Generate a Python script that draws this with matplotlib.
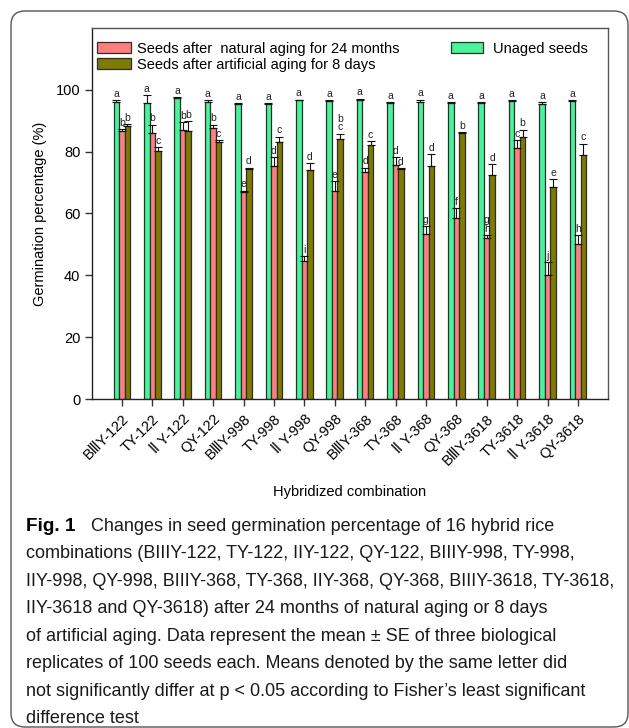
import matplotlib
matplotlib.use("Agg")
import matplotlib.pyplot as plt
import numpy as np
from matplotlib.patches import Patch, FancyBboxPatch
from matplotlib.transforms import IdentityTransform

categories = ['BⅢY-122', 'TY-122', 'Ⅱ Y-122', 'QY-122', 'BⅢY-998', 'TY-998', 'Ⅱ Y-998', 'QY-998',
              'BⅢY-368', 'TY-368', 'Ⅱ Y-368', 'QY-368', 'BⅢY-3618', 'TY-3618', 'Ⅱ Y-3618', 'QY-3618']

unaged = [96.1, 95.6, 97.4, 95.9, 95.4, 95.4, 96.5, 96.4, 96.8, 95.7, 95.9, 95.7, 95.7, 96.2, 95.5, 96.3]
unaged_se = [0.4, 2.6, 0.3, 0.6, 0.2, 0.2, 0.3, 0.3, 0.3, 0.2, 0.9, 0.2, 0.2, 0.3, 0.5, 0.3]
natural = [86.6, 85.9, 87.1, 87.5, 67.0, 75.5, 44.7, 67.3, 73.5, 75.7, 53.3, 58.4, 52.0, 81.2, 40.1, 50.1]
natural_se = [0.6, 2.8, 2.3, 1.2, 0.4, 2.8, 1.5, 3.1, 1.3, 2.6, 2.6, 3.4, 1.0, 2.4, 4.3, 2.9]
artificial = [88.2, 80.1, 86.5, 83.0, 74.4, 83.0, 74.0, 83.9, 82.1, 74.4, 75.5, 86.0, 72.3, 84.6, 68.5, 78.8]
artificial_se = [0.6, 1.3, 3.3, 0.6, 0.4, 1.8, 2.3, 1.9, 1.3, 0.2, 3.6, 0.3, 3.6, 2.5, 2.7, 3.8]

unaged_letters = ['a'] * 16
natural_letters = ['b', 'b', 'b', 'b', 'e', 'd', 'i', 'e', 'd', 'd', 'g', 'f', 'g\nh', 'c', 'j', 'h']
artificial_letters = ['b', 'c', 'b', 'c', 'd', 'c', 'd', 'b\nc', 'c', 'd', 'd', 'b', 'd', 'b', 'e', 'c']

label_natural = 'Seeds after  natural aging for 24 months'
label_artificial = 'Seeds after artificial aging for 8 days'
label_unaged = 'Unaged seeds'

caption_lines = [
    'Changes in seed germination percentage of 16 hybrid rice',
    'combinations (BIIIY-122, TY-122, IIY-122, QY-122, BIIIY-998, TY-998,',
    'IIY-998, QY-998, BIIIY-368, TY-368, IIY-368, QY-368, BIIIY-3618, TY-3618,',
    'IIY-3618 and QY-3618) after 24 months of natural aging or 8 days',
    'of artificial aging. Data represent the mean ± SE of three biological',
    'replicates of 100 seeds each. Means denoted by the same letter did',
    'not significantly differ at p < 0.05 according to Fisher’s least significant',
    'difference test',
]

W, H = 629, 728
FONT = ['Liberation Sans', 'DejaVu Sans']
plt.rcParams['font.family'] = FONT

fig = plt.figure(figsize=(W / 100, H / 100), dpi=100)
left, right, top, bottom = 91.5, 608.3, 27.7, 399.3
ax = fig.add_axes([left / W, 1 - bottom / H, (right - left) / W, (bottom - top) / H])

c_green = '#48F39A'
c_red = '#FF7E7E'
c_olive = '#7D7B00'
edge = '#2E2E2E'

x = np.arange(len(categories))
bw = 0.18
offsets = [-bw, 0, bw]
series = [(unaged, unaged_se, unaged_letters, c_green),
          (natural, natural_se, natural_letters, c_red),
          (artificial, artificial_se, artificial_letters, c_olive)]

for off, (vals, se, letters, col) in zip(offsets, series):
    vals = np.array(vals)
    se = np.array(se)
    ax.bar(x + off, vals, width=bw, color=col, edgecolor=edge, linewidth=0.9, zorder=2)
    ax.errorbar(x + off, vals, yerr=[np.zeros_like(se), se], fmt='none', ecolor='#111111',
                elinewidth=0.8, capsize=2.6, capthick=0.8, zorder=3)
    for xi, v, s, lt in zip(x + off, vals, se, letters):
        ax.text(xi, v + s + 0.4, lt, ha='center', va='bottom', fontsize=7.5,
                linespacing=0.85, color='#222222', zorder=4)

ax.set_xlim(-1, 16)
ax.set_ylim(0, 120)
ax.set_yticks([0, 20, 40, 60, 80, 100])
ax.set_xticks(x)
ax.set_xticklabels(categories, rotation=45, ha='right', rotation_mode='anchor')
ax.tick_params(axis='both', direction='out', length=5, width=1, color='#333333', labelsize=10.5, pad=3)
ax.tick_params(axis='x', labelsize=10.5, pad=4)
for s in ['left', 'bottom']:
    ax.spines[s].set_color('#222222')
    ax.spines[s].set_linewidth(1.0)
for s in ['top', 'right']:
    ax.spines[s].set_color('#555555')
    ax.spines[s].set_linewidth(1.0)

leg1 = ax.legend(handles=[Patch(facecolor=c_red, edgecolor=edge, linewidth=0.9, label=label_natural),
                          Patch(facecolor=c_olive, edgecolor=edge, linewidth=0.9, label=label_artificial)],
                 loc='upper left', bbox_to_anchor=(0.0106, 0.962), frameon=False, fontsize=10.5,
                 borderpad=0, borderaxespad=0, handlelength=2.35, handleheight=0.75,
                 handletextpad=0.4, labelspacing=0.12)
ax.add_artist(leg1)
ax.legend(handles=[Patch(facecolor=c_green, edgecolor=edge, linewidth=0.9, label=label_unaged)],
          loc='upper left', bbox_to_anchor=(0.695, 0.962), frameon=False, fontsize=10.5,
          borderpad=0, borderaxespad=0, handlelength=2.25, handleheight=0.75, handletextpad=0.65)

fig.text(40 / W, 1 - 213.5 / H, 'Germination percentage (%)', rotation=90, ha='center', va='center',
         fontsize=10.5)
fig.text(350 / W, 1 - 492 / H, 'Hybridized combination', ha='center', va='center', fontsize=10.5)

# Border
border = FancyBboxPatch((11, H - 727), 617, 716, boxstyle='round,pad=0,rounding_size=14',
                        transform=IdentityTransform(), facecolor='none', edgecolor='#555555',
                        linewidth=1.0)
fig.patches.append(border)

# Caption: one font size, chosen so the widest line fits inside the frame
cap_font = ['Liberation Sans', 'DejaVu Sans']
renderer = fig.canvas.get_renderer()
ratios = []
for i, line in enumerate(caption_lines):
    xs = 90.7 if i == 0 else 26
    probe = fig.text(0, 0, line, fontsize=12, family=cap_font)
    w = probe.get_window_extent(renderer).width
    probe.remove()
    ratios.append((614 - xs) / w)
cap_size = 12 * min(ratios)
baselines = [530.7, 558.3, 586, 613.3, 641, 668.3, 696, 723.3]
fig.text(26 / W, 1 - baselines[0] / H, 'Fig. 1', fontsize=cap_size * 1.05, fontweight='bold',
         family=cap_font, va='baseline', ha='left')
for i, (line, b) in enumerate(zip(caption_lines, baselines)):
    xs = 90.7 if i == 0 else 26
    fig.text(xs / W, 1 - b / H, line, fontsize=cap_size, family=cap_font, va='baseline', ha='left',
             color='#1a1a1a')

fig.savefig('out.png', dpi=100)
